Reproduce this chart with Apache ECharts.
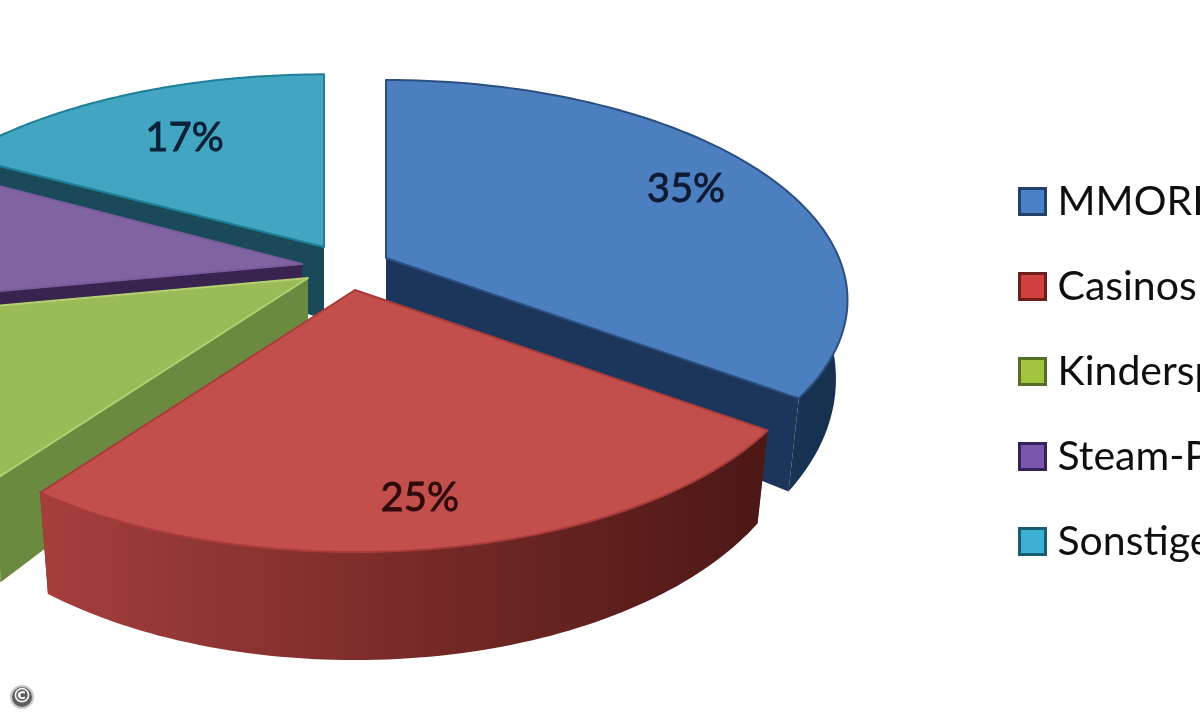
<!DOCTYPE html>
<html><head><meta charset="utf-8">
<style>html,body{margin:0;padding:0;background:#fff}#c{width:1200px;height:720px;filter:blur(0.7px)}</style>
<script src="https://cdn.jsdelivr.net/npm/echarts@6/dist/echarts.min.js"></script>
</head><body><div id="c"></div>
<script>
// data
var categories = ['MMORPG', 'Casinos', 'Kinderspiele', 'Steam-Portale', 'Sonstige'];
var shares = [35, 25, 12, 11, 17];
// styling / layout, by slice
var topColors = ['#4b7fc0', '#c24f4c', '#9bbb59', '#8064a2', '#42a5c2'];
var edgeColors = ['#2a4f80', '#a83c3a', '#b4d070', '#7a5c9c', '#1f7f98'];
var cutColors = ['#1b365a', '#7a2a28', '#6a8a40', '#39244f', '#1a4a5a'];
var rimStart = ['#24456e', '#a53f3c', '#6a8a40', '#39244f', '#1a4a5a'];
var rimEnd = ['#16304f', '#4c1715', '#6a8a40', '#39244f', '#1a4a5a'];
var legendBorders = ['#22406a', '#6d1e1c', '#546e26', '#35225a', '#175f70'];
var legendFills = ['#4a80c6', '#d0403e', '#a2c43f', '#7a56ac', '#3db0d4'];
var apexX = [386, 355, 308, 302, 324];
var apexY = [258, 290, 278, 264, 247];
var backScale = [1, 1, 1, 1, 0.97];
var labelRadius = [0.8, 0.83, 1, 1, 0.65];
var labelShiftX = [-2, -5, 0, 0, -4];
var labelShiftY = [3, 2, 0, 0, -5];
var labelColors = ['#0e1a33', '#2e0a0a', '#1a2a10', '#20103a', '#0a2036'];
var drawZ = [5, 6, 4, 3, 2];
var RX = 453, RY = 212, K = 0.191, BASE_X = 0.975, DEPTH = 72, DEPTH_V = 36;

var total = shares.reduce(function (a, b) { return a + b; }, 0);
var starts = [];
shares.reduce(function (acc, v, i) { starts[i] = acc; return acc + v; }, 0);

function project(i, theta, r, base) {
  var u = Math.sin(theta) * r, v = -Math.cos(theta) * r;
  var s = 1 / (1 - K * v);
  var dx = RX * u * s, dy = RY * v * s * (v < 0 ? backScale[i] : 1);
  if (base) { dx *= BASE_X; dy += DEPTH + DEPTH_V * v; }
  return [apexX[i] + dx, apexY[i] + dy];
}
function arcPoints(i, a0, a1, base) {
  var pts = [], n = 80;
  for (var k = 0; k <= n; k++) pts.push(project(i, a0 + (a1 - a0) * k / n, 1, base));
  return pts;
}
function renderSlice(i) {
  return function (params, api) {
    var value = api.value(0);
    var a0 = starts[i] / total * 2 * Math.PI;
    var a1 = a0 + value / total * 2 * Math.PI;
    var topArc = arcPoints(i, a0, a1, false);
    var baseArc = arcPoints(i, a0, a1, true);
    var apex = project(i, 0, 0, false), apexB = project(i, 0, 0, true);
    var kids = [];
    function cut(ang) {
      kids.push({ type: 'polygon', silent: true,
        shape: { points: [apex, project(i, ang, 1, false), project(i, ang, 1, true), apexB] },
        style: { fill: cutColors[i] } });
    }
    cut(a0); cut(a1);
    kids.push({ type: 'polygon', silent: true,
      shape: { points: topArc.concat(baseArc.slice().reverse()) },
      style: { fill: new echarts.graphic.LinearGradient(0, 0, 1, 0, [
        { offset: 0, color: rimStart[i] }, { offset: 1, color: rimEnd[i] }]) } });
    kids.push({ type: 'polygon', silent: true,
      shape: { points: [apex].concat(topArc) },
      style: { fill: topColors[i], stroke: edgeColors[i], lineWidth: 2, lineJoin: 'round' } });
    var mid = (a0 + a1) / 2, lp = project(i, mid, labelRadius[i], false);
    kids.push({ type: 'text', silent: true, z2: 10,
      style: { text: value + '%', x: lp[0] + labelShiftX[i], y: lp[1] + labelShiftY[i],
        align: 'center', verticalAlign: 'middle',
        fill: labelColors[i], stroke: labelColors[i], lineWidth: 0.8, font: '40px Lato' } });
    return { type: 'group', children: kids };
  };
}
var chart = echarts.init(document.getElementById('c'), null, { renderer: 'canvas' });
chart.setOption({
  animation: false,
  backgroundColor: '#ffffff',
  legend: {
    show: true, orient: 'vertical', left: 1018, top: 181,
    data: categories.map(function (n, i) {
      return { name: n, icon: 'rect',
        itemStyle: { color: legendFills[i], borderColor: legendBorders[i], borderWidth: 3 } };
    }),
    itemWidth: 26, itemHeight: 26, itemGap: 44, padding: 0,
    textStyle: { fontFamily: 'Lato', fontSize: 41, lineHeight: 41, color: '#0f0f0f', padding: [0, 0, 0, 7] },
    selectedMode: false
  },
  graphic: [
    { type: 'circle', shape: { cx: 22, cy: 697, r: 11 }, style: { fill: '#5f5f5f', stroke: '#c8c8c8', lineWidth: 2 } },
    { type: 'text', style: { text: '©', x: 22, y: 697, align: 'center', verticalAlign: 'middle', fill: '#ffffff', font: 'bold 20px "DejaVu Sans"' } }
  ],
  series: categories.map(function (name, i) {
    return { type: 'custom', name: name, coordinateSystem: 'none', z: drawZ[i], silent: true,
      itemStyle: { color: topColors[i] }, renderItem: renderSlice(i), data: [[shares[i]]] };
  })
});
</script></body></html>
